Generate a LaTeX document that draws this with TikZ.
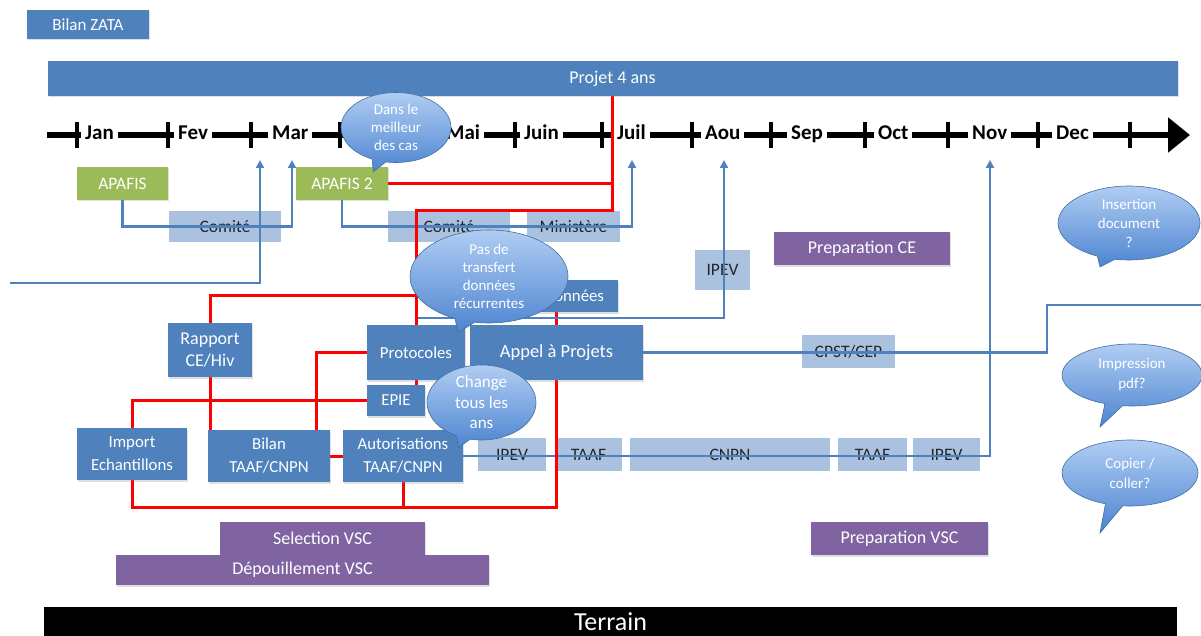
\documentclass[tikz,border=0pt]{standalone}
\usepackage{fontspec}
\setmainfont{Carlito}
\usetikzlibrary{arrows.meta,shapes.callouts,shadows}
\definecolor{boxblue}{RGB}{79,129,189}
\definecolor{paleblue}{RGB}{170,194,224}
\definecolor{boxgreen}{RGB}{155,187,89}
\definecolor{boxpurple}{RGB}{128,100,162}
\definecolor{bubtop}{RGB}{176,205,243}
\definecolor{bubbottom}{RGB}{76,132,208}
\pgfdeclarelayer{back}
\pgfdeclarelayer{links}
\pgfsetlayers{back,links,main}

\begin{document}
\begin{tikzpicture}[x=1pt, y=-1pt, >={Triangle[length=8pt,width=8pt]},
        every node/.append style={inner sep=0pt, align=center}]
      \tikzstyle{shadowed} = [drop shadow={opacity=0.25,shadow xshift=1pt,shadow yshift=-1.5pt}]
      \tikzstyle{bbox} = [fill=boxblue, text=white, font=\fontsize{16.8}{23}\selectfont, shadowed]
      \tikzstyle{gbox} = [bbox, fill=boxgreen, font=\fontsize{17.5}{20}\selectfont]
      \tikzstyle{pbox} = [bbox, fill=boxpurple, font=\fontsize{18}{20}\selectfont]
      \tikzstyle{pale} = [fill=paleblue, text=black!85, font=\fontsize{17.5}{20}\selectfont]
      \tikzstyle{month} = [fill=white, inner xsep=4pt, inner ysep=0pt, text height=14pt, text depth=4pt,
        font=\bfseries\fontsize{21}{23}\selectfont]
      \tikzstyle{bubble} = [ellipse callout, draw=boxblue!85!black, line width=0.6pt, inner sep=-5pt,
        top color=bubtop, bottom color=bubbottom, text=white, font=\fontsize{15}{18}\selectfont]
      \tikzstyle{blueline} = [draw=boxblue, line width=2.5pt]
      \tikzstyle{redline} = [draw=red, line width=3pt]
      \useasboundingbox (0,0) rectangle (1201,636);

      \begin{pgfonlayer}{back}
      \fill[white] (0,0) rectangle (1201,636);
      \draw[line width=6.5pt, -{Triangle[length=22pt,width=34pt]}] (47,135) -- (1190,135);
      \foreach \t in {77,168,251,340,429,515,602,692,771,865,948,1038,1130}
        \draw[line width=4pt] (\t,122) -- (\t,148);
      \foreach \m/\l in {Jan/85,Fev/178,Mar/272,Mai/446,Juin/524,Juil/617,Aou/705,Sep/791,Oct/878,Nov/972,Dec/1056}
        \node (m\m) [month, anchor=west] at (\l-4,135) {\m};
      \node (comiteA) [pale, minimum width=112pt, minimum height=31pt] at (225,226.5) {Comité};
      \node (comiteB) [pale, minimum width=122pt, minimum height=31pt] at (449,226.5) {Comité};
      \node (ministere) [pale, minimum width=93pt, minimum height=31pt] at (573.5,226.5) {Ministère};
      \node (ipevTop) [pale, minimum width=55pt, minimum height=40pt] at (722.5,270) {IPEV};
      \node (cpst) [pale, minimum width=93pt, minimum height=33pt] at (848.5,351.5) {CPST/CEP};
      \node (ipevA) [pale, minimum width=68pt, minimum height=33pt] at (512,454.5) {IPEV};
      \node (taafA) [pale, minimum width=67pt, minimum height=33pt] at (588.5,454.5) {TAAF};
      \node (cnpn) [pale, minimum width=200pt, minimum height=33pt] at (730,454.5) {CNPN};
      \node (taafB) [pale, minimum width=69pt, minimum height=33pt] at (872.5,454.5) {TAAF};
      \node (ipevB) [pale, minimum width=67pt, minimum height=33pt] at (946.5,454.5) {IPEV};
      \end{pgfonlayer}

      \node (zata) [bbox, font=\fontsize{17}{19}\selectfont, minimum width=122pt, minimum height=29pt] at (88,24.5) {Bilan ZATA};
      \node (projet) [bbox, font=\fontsize{18}{20}\selectfont, minimum width=1130pt, minimum height=35pt] at (612.5,78.5) {Projet 4 ans};
      \node (apafis) [gbox, minimum width=91pt, minimum height=33pt] at (122.5,183.5) {APAFIS};
      \node (apafisB) [gbox, minimum width=92pt, minimum height=33pt] at (342,183.5) {APAFIS 2};
      \node (prepCE) [pbox, minimum width=176pt, minimum height=33pt] at (862,248.5) {Preparation CE};
      \node (donnees) [bbox, minimum width=88pt, minimum height=32pt] at (574,296) {Données};
      \node (rapport) [bbox, font=\fontsize{18}{22}\selectfont, minimum width=84pt, minimum height=54pt] at (210,350) {Rapport\\CE/Hiv};
      \node (protocoles) [bbox, minimum width=98pt, minimum height=55pt] at (416,352.5) {Protocoles};
      \node (appel) [bbox, font=\fontsize{18.5}{21}\selectfont, minimum width=173pt, minimum height=55pt] at (556.5,352.5) {Appel à Projets};
      \node (epie) [bbox, minimum width=58pt, minimum height=31pt] at (396,400.5) {EPIE};
      \node (import) [bbox, minimum width=110pt, minimum height=52pt] at (132,454) {Import\\Echantillons};
      \node (bilan) [bbox, minimum width=122pt, minimum height=52pt] at (269,456) {Bilan\\TAAF/CNPN};
      \node (autor) [bbox, minimum width=120pt, minimum height=52pt] at (403,456) {Autorisations\\TAAF/CNPN};
      \node (selection) [pbox, minimum width=205pt, minimum height=33pt] at (322.5,538.5) {Selection VSC};
      \node (depouil) [pbox, minimum width=373pt, minimum height=30pt] at (302.5,570) {Dépouillement VSC};
      \node (prepVSC) [pbox, minimum width=177pt, minimum height=33pt] at (899.5,538.5) {Preparation VSC};
      \node (terrain) [fill=black, text=white, font=\fontsize{26}{28}\selectfont, minimum width=1133pt, minimum height=29pt] at (610.5,621.5) {Terrain};

      \coordinate (aMarA) at (260,160);
      \coordinate (aMarB) at (292,160);
      \coordinate (aJuil) at (632,160);
      \coordinate (aAou) at (724,160);
      \coordinate (aNov) at (990,160);
      \coordinate (wIn) at (10,283);
      \coordinate (eBend) at (1047,305);
      \coordinate (eOut) at (1201,305);

      \begin{pgfonlayer}{links}
      \draw[redline] (appel.north) -- (appel.north |- donnees.south);
      \draw[blueline,->] (apafis.south) |- (comiteA.center -| aMarB) -- (aMarB);
      \draw[blueline,->] (wIn) -| (aMarA);
      \draw[blueline,->] (apafisB.south) |- (comiteB.center -| aJuil) -- (aJuil);
      \draw[blueline,->] (protocoles.north) -- ++(0,-7) -| (aAou);
      \draw[blueline] (appel.east) -| (eBend) -- (eOut);
      \draw[blueline,->] (autor.east) -| (aNov);
      \draw[redline] (projet.south) |- (apafisB.east);
      \draw[redline] (projet.south) -- ++(0,114) -| (protocoles.north);
      \draw[redline] (rapport.north) -- ++(0,-27) -| (protocoles.north);
      \draw[redline] (protocoles.west) -| ([xshift=47pt]bilan.north);
      \draw[redline] (epie.west) -| (import.north);
      \draw[redline] (rapport.south) -- (rapport.south |- bilan.north);
      \draw[redline] (bilan.east) -- (autor.west);
      \draw[redline] (protocoles.south) -- (protocoles.south |- epie.north);
      \draw[redline] (import.south) -- ++(0,27) -| (appel.south);
      \draw[redline] (autor.south) -- ++(0,25);
      \end{pgfonlayer}

      \node (dans) [bubble, minimum width=110pt, minimum height=70pt,
        callout absolute pointer={([xshift=-15pt,yshift=-5pt]apafisB.north east)}] at (396,127.5) {Dans le\\meilleur\\des cas};
      \node (transfert) [bubble, minimum width=158pt, minimum height=93pt,
        callout absolute pointer={([xshift=42pt,yshift=-8pt]protocoles.north)}] at (489,276.5) {Pas de\\transfert\\données\\récurrentes};
      \node (change) [bubble, font=\fontsize{17}{20.5}\selectfont, minimum width=109pt, minimum height=75pt,
        callout absolute pointer={([xshift=-5pt,yshift=-18pt]autor.north east)}] at (481.5,402.5) {Change\\tous les\\ans};
      \node (insertion) [bubble, font=\fontsize{15}{19}\selectfont, minimum width=142pt, minimum height=74pt,
        callout absolute pointer={(1100,267)}] at (1129,223) {Insertion\\document\\?};
      \node (impression) [bubble, font=\fontsize{15}{20}\selectfont, minimum width=140pt, minimum height=62pt,
        callout absolute pointer={(1100,427)}] at (1132,375) {Impression\\pdf?};
      \node (copier) [bubble, font=\fontsize{15}{20}\selectfont, minimum width=136pt, minimum height=66pt,
        callout absolute pointer={(1100,533)}] at (1130,473) {Copier /\\coller?};
    \end{tikzpicture}
\end{document}
